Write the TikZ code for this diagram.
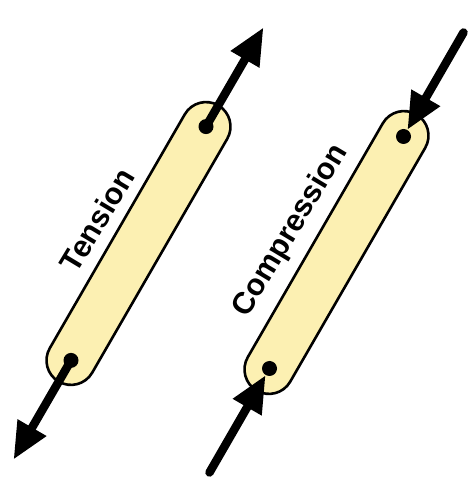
\documentclass[tikz,border=0pt]{standalone}
\usepackage{fontspec}
\setmainfont{Liberation Sans}
\usetikzlibrary{arrows.meta}
\definecolor{barfill}{RGB}{252,240,178}

\begin{document}
\begin{tikzpicture}[x=1pt,y=1pt,
    bar/.style={draw, line width=2.6pt, fill=barfill, rectangle, rounded corners=24.5pt,
      minimum width=319pt, minimum height=49pt, rotate=60, inner sep=0pt},
    pin/.style={circle, fill, inner sep=0pt, minimum size=15pt},
    force/.style={line width=8.5pt, -{Triangle[length=37pt,width=31pt]}},
    push/.style={force, line cap=round},
    lbl/.style={font=\fontsize{30.5}{36}\selectfont\bfseries, rotate=59, inner sep=0pt}]
    \useasboundingbox (0,0) rectangle (474,487);

    % tension member
    \node[bar] (tbar) at (138.5,243.5) {};
    \node[pin] (ttop) at (206,360.4) {};
    \node[pin] (tbot) at (71,126.6) {};
    \coordinate (ttop-end) at (263.5,459.6);
    \coordinate (tbot-end) at (13.5,27.4);
    \draw[force] (ttop.center) -- (ttop-end);
    \draw[force] (tbot.center) -- (tbot-end);
    \node[lbl] (tlabel) at (97,267) {Tension};

    % compression member
    \node[bar] (cbar) at (336.5,234.5) {};
    \node[pin] (ctop) at (403.5,350.5) {};
    \node[pin] (cbot) at (269.5,118.5) {};
    \coordinate (ctop-end) at (463.5,454.5);
    \coordinate (cbot-end) at (209.5,14.5);
    \draw[push] (ctop-end) -- (ctop);
    \draw[push] (cbot-end) -- (cbot);
    \node[lbl] (clabel) at (291,256) {Compression};
\end{tikzpicture}
\end{document}
